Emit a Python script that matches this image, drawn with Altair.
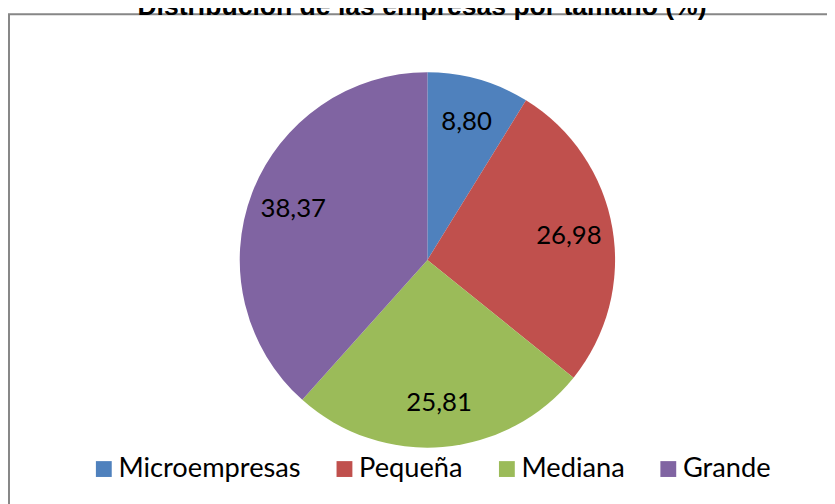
import altair as alt
import pandas as pd

categorias = ["Microempresas", "Pequeña", "Mediana", "Grande"]
valores = [8.80, 26.98, 25.81, 38.37]
colores = ["#4F81BD", "#C0504D", "#9BBB59", "#8064A2"]
titulo = "Distribución de las empresas por tamaño (%)"

df = pd.DataFrame({"categoria": categorias, "valor": valores, "orden": list(range(len(categorias)))})

W, H = 827, 496
CX, CY = 423.5, 252

base = alt.Chart(df).transform_calculate(
    etiqueta="replace(format(datum.valor, '.2f'), '.', ',')"
)

border = alt.Chart(pd.DataFrame({"k": [0]})).mark_rect(
    filled=False, stroke="#878787", strokeWidth=2
).encode(
    x=alt.value(1), x2=alt.value(W + 40), y=alt.value(4), y2=alt.value(H + 40)
)

arcs = base.mark_arc(outerRadius=189.5).encode(
    theta=alt.Theta("valor:Q", stack=True),
    order=alt.Order("orden:Q"),
    color=alt.Color(
        "categoria:N",
        scale=alt.Scale(domain=categorias, range=colores),
        legend=alt.Legend(
            title=None,
            orient="none",
            direction="horizontal",
            legendX=83,
            legendY=449,
            symbolType="square",
            symbolSize=256,
            symbolStrokeWidth=0,
            labelFont="Lato",
            labelFontSize=27.5,
            labelColor="#000000",
            labelLimit=400,
            labelOffset=1,
            columnPadding=30,
            padding=0,
        ),
    ),
    x=alt.value(CX),
    y=alt.value(CY),
)

labels = base.mark_text(radius=145, font="Lato", fontSize=26, color="#000000").encode(
    theta=alt.Theta("valor:Q", stack=True),
    order=alt.Order("orden:Q"),
    text="etiqueta:N",
    x=alt.value(CX),
    y=alt.value(CY),
)

title = alt.Chart(pd.DataFrame({"t": [titulo]})).mark_text(
    font="Liberation Sans", fontWeight="bold", fontSize=26.8, color="#000000",
    align="center", baseline="alphabetic"
).encode(text="t:N", x=alt.value(418), y=alt.value(5))

chart = alt.layer(border, arcs, labels, title).properties(
    width=W, height=H, autosize=alt.AutoSizeParams(type="none"), padding=0
).configure_view(strokeWidth=0)

chart.save("out.html", embed_options={"renderer": "svg", "actions": False})
